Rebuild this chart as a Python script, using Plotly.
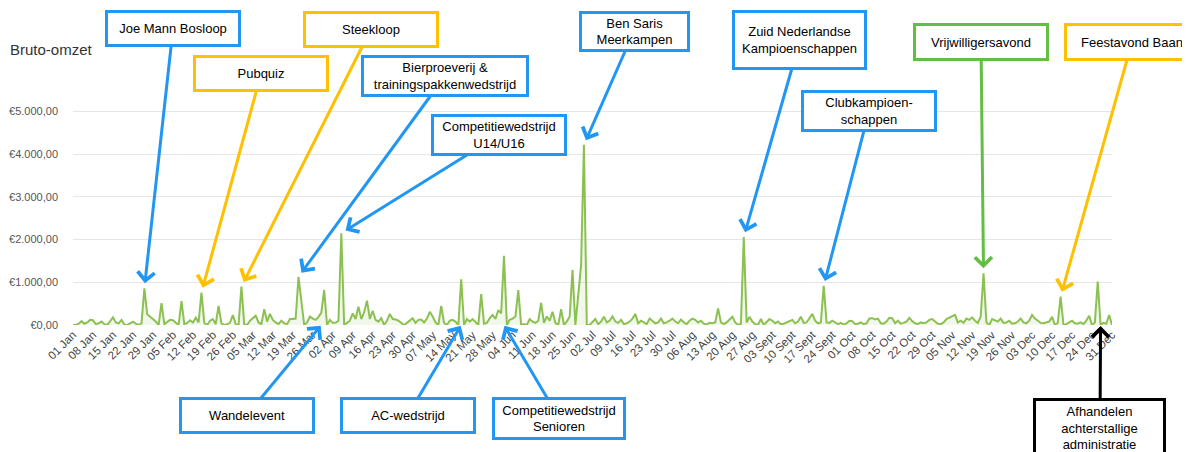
import plotly.graph_objects as go
import pandas as pd

# ---------------- data (daily gross revenue, EUR) ----------------
jan = [0, 0, 30, 90, 30, 60, 120, 110, 20, 40, 80, 20, 0, 80, 180, 60, 40, 120, 10, 0,
       50, 80, 30, 0, 40, 860, 250, 200, 150, 80, 0]
feb = [510, 20, 80, 120, 110, 60, 0, 560, 20, 50, 110, 60, 170, 60, 760, 50, 0, 100, 140, 20,
       450, 40, 0, 20, 50, 235, 20, 0]
mar = [900, 20, 0, 100, 150, 220, 60, 20, 370, 80, 260, 120, 60, 20, 100, 40, 20, 140, 140, 150,
       1130, 550, 0, 60, 200, 150, 120, 190, 290, 820, 0]
apr = [120, 50, 50, 100, 2150, 0, 50, 100, 270, 140, 430, 140, 300, 570, 140, 335, 120, 80, 160, 0,
       100, 260, 140, 130, 100, 60, 0, 50, 100, 160]
may = [50, 120, 130, 60, 150, 310, 200, 60, 0, 445, 50, 0, 100, 120, 80, 0, 1070, 0, 140, 80,
       140, 60, 0, 725, 30, 50, 160, 235, 140, 350, 270]
jun = [1620, 0, 120, 150, 200, 820, 0, 20, 0, 140, 80, 50, 100, 520, 50, 200, 100, 310, 50, 0,
       370, 0, 80, 200, 1290, 0, 700, 1400, 4220, 0]
jul = [0, 60, 140, 20, 80, 195, 60, 100, 200, 80, 50, 120, 20, 40, 80, 150, 260, 40, 100, 60,
       20, 150, 100, 40, 60, 150, 40, 60, 100, 150, 80]
aug = [40, 130, 60, 20, 100, 150, 120, 60, 100, 30, 10, 50, 40, 60, 390, 60, 20, 60, 120, 195,
       60, 0, 30, 2060, 60, 190, 80, 20, 0, 140, 0]
sep = [60, 140, 100, 40, 80, 20, 30, 60, 100, 120, 40, 80, 195, 50, 60, 150, 260, 100, 40, 60,
       915, 60, 50, 100, 60, 20, 50, 10, 40, 100]
okt = [90, 20, 30, 60, 20, 40, 155, 160, 130, 150, 40, 30, 80, 170, 160, 40, 100, 30, 50, 80,
       170, 90, 40, 20, 60, 40, 60, 120, 140, 80, 30]
nov = [20, 60, 140, 170, 200, 235, 60, 100, 50, 150, 120, 180, 100, 50, 200, 1210, 60, 0, 140, 100,
       80, 150, 50, 60, 100, 30, 40, 80, 150, 60]
dec = [40, 100, 235, 150, 100, 50, 40, 60, 80, 190, 0, 50, 665, 0, 20, 60, 100, 40, 30, 60,
       20, 100, 216, 0, 60, 1015, 0, 50, 30, 235, 0]

values = jan + feb + mar + apr + may + jun + jul + aug + sep + okt + nov + dec
dates = pd.date_range("2023-01-01", "2023-12-31", freq="D")

month_names = ["Jan", "Feb", "Mar", "Apr", "May", "Jun", "Jul", "Aug", "Sept", "Oct", "Nov", "Dec"]
tick_dates = dates[::7]
tick_text = [f"{d.day:02d} {month_names[d.month - 1]}" for d in tick_dates]

y_tickvals = [0, 1000, 2000, 3000, 4000, 5000]
y_ticktext = ["€0,00", "€1.000,00", "€2.000,00", "€3.000,00", "€4.000,00", "€5.000,00"]

# events: (label, date, value the arrow points at)
events = [
    ("Joe Mann Bosloop", "2023-01-26", 860),
    ("Pubquiz", "2023-02-15", 760),
    ("Steekloop", "2023-03-01", 900),
    ("Bierproeverij &<br>trainingspakkenwedstrijd", "2023-03-21", 1130),
    ("Competitiewedstrijd<br>U14/U16", "2023-04-05", 2150),
    ("Ben Saris<br>Meerkampen", "2023-06-29", 4220),
    ("Zuid Nederlandse<br>Kampioenschappen", "2023-08-24", 2060),
    ("Clubkampioen-<br>schappen", "2023-09-21", 915),
    ("Vrijwilligersavond", "2023-11-16", 1210),
    ("Feestavond Baan", "2023-12-13", 665),
    ("Wandelevent", "2023-03-29", 0),
    ("AC-wedstrijd", "2023-05-17", 0),
    ("Competitiewedstrijd<br>Senioren", "2023-06-01", 0),
    ("Afhandelen<br>achterstallige<br>administratie", "2023-12-27", 0),
]

# ---------------- layout geometry / styles ----------------
# page body has an 8px margin, so the figure is drawn 8px smaller and offset
OFF = 8
W, H = 1190 - OFF, 452 - OFF
ML, MR, MT, MB = 65, 78, 95, 127
Y_MAX = 5200
BLUE, YELLOW, GREEN, BLACK = "#2196F3", "#FFC000", "#62BE44", "#000000"

# box centre x, centre y (screen px), inner width, inner height (px), colour for each event
styles = [
    (173, 29, 126, 27, BLUE),
    (261, 74, 126, 27, YELLOW),
    (371, 29, 126, 27, YELLOW),
    (445, 76, 158, 32, BLUE),
    (499, 135, 126, 32, BLUE),
    (634, 31, 101, 31, BLUE),
    (800, 40, 125, 50, BLUE),
    (869, 111, 126, 32, BLUE),
    (981, 42, 126, 28, GREEN),
    (1132, 42, 126, 28, YELLOW),
    (247, 415, 126, 27, BLUE),
    (408, 415, 126, 27, BLUE),
    (559, 418, 124, 33, BLUE),
    (1100, 428, 123, 50, BLACK),
]

plot_w = W - ML - MR
plot_h = H - MT - MB
x0 = dates[0]
span_days = (dates[-1] - dates[0]).days


def px(date_str, val):
    d = (pd.Timestamp(date_str) - x0).days
    return ML + d / span_days * plot_w, MT + plot_h * (1 - val / Y_MAX)


fig = go.Figure()
fig.add_trace(go.Scatter(
    x=dates, y=values, mode="lines",
    line=dict(color="#8CC152", width=2),
    fill="tozeroy", fillcolor="rgba(140,193,82,0.12)",
    hoverinfo="x+y", showlegend=False,
))

annotations = []
for (label, d, v), (cx, cy, bw, bh, col) in zip(events, styles):
    hx, hy = px(d, v)
    annotations.append(dict(
        x=d, y=v, xref="x", yref="y",
        ax=(cx - OFF) - hx, ay=(cy - OFF) - hy, axref="pixel", ayref="pixel",
        text=label, showarrow=True,
        arrowhead=4, arrowsize=1.1, arrowwidth=3, arrowcolor=col,
        standoff=5 if v > 0 else 1,
        font=dict(family="Liberation Sans, Arial, sans-serif", size=13, color="#000"),
        bgcolor="white", bordercolor=col, borderwidth=3, borderpad=2,
        width=bw, height=bh, align="center", valign="middle",
    ))

fig.update_layout(
    width=W, height=H,
    margin=dict(l=ML, r=MR, t=MT, b=MB, autoexpand=False),
    paper_bgcolor="white", plot_bgcolor="white",
    title=dict(text="Bruto-omzet", x=2 / W, xref="container", xanchor="left",
               y=1 - 42 / H, yref="container", yanchor="middle", automargin=False,
               font=dict(family="Liberation Sans, Arial, sans-serif", size=15, color="#333")),
    annotations=annotations,
    xaxis=dict(
        range=[dates[0], dates[-1]], automargin=False,
        tickmode="array", tickvals=tick_dates, ticktext=tick_text,
        tickangle=-45, showgrid=False, zeroline=False, showline=False, ticks="",
        tickfont=dict(family="Liberation Sans, Arial, sans-serif", size=11.5, color="#444"),
    ),
    yaxis=dict(
        range=[0, Y_MAX], automargin=False, tickmode="array",
        tickvals=y_tickvals, ticktext=y_ticktext,
        showgrid=True, gridcolor="#E6E6E6", gridwidth=1, zeroline=False, showline=False,
        ticks="", ticklabelstandoff=14,
        tickfont=dict(family="Liberation Sans, Arial, sans-serif", size=11, color="#555"),
    ),
)

fig.write_html("out.html")
